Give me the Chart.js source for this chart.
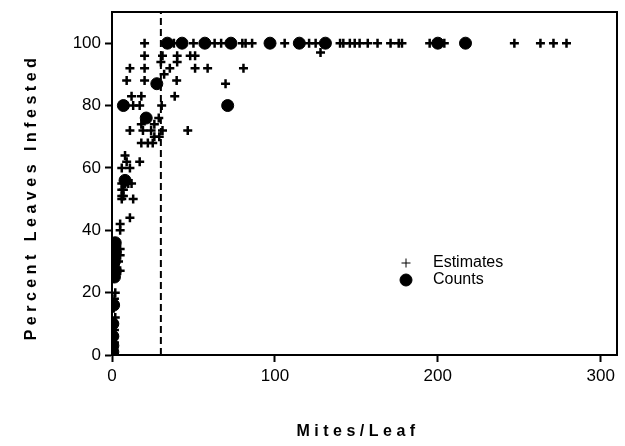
<!DOCTYPE html>
<html>
<head>
<meta charset="utf-8">
<script src="https://cdn.jsdelivr.net/npm/chart.js@4/dist/chart.umd.min.js"></script>
<style>
    html, body { margin: 0; padding: 0; background: #fff; }
</style>
</head>
<body>
<canvas id="chart" width="625" height="446"></canvas>
<script>
// Mites per leaf vs percent leaves infested

const xTicks = [0, 100, 200, 300];
const yTicks = [0, 20, 40, 60, 80, 100];
const thresholdX = [30, 30];
const thresholdY = [0, 110];

// Estimates (+)
const estimatesX = [
    20, 38, 50, 63, 67, 80, 82, 86, 106, 121, 125, 140, 142, 146, 149, 152, 157, 163,
    171, 176, 178, 195, 204, 247, 263, 271, 279,
    128,
    20, 31, 40, 48, 51,
    30, 40,
    11, 20, 35.5, 51, 58.7, 80.7,
    32,
    9, 20, 39.7, 69.7,
    12, 18, 38.5,
    13, 17, 30.5,
    28.7,
    18, 26,
    11, 19, 24, 31, 46.5,
    26, 29,
    18, 22, 25,
    8, 9, 17, 6, 11,
    6, 8, 10, 12, 6, 7, 6, 7, 13, 6,
    11, 5, 5, 5, 5, 4, 5,
    2, 1.5, 1, 2, 1, 1.5, 1, 1.5, 1, 1
];
const estimatesY = [
    100, 100, 100, 100, 100, 100, 100, 100, 100, 100, 100, 100, 100, 100, 100, 100, 100, 100,
    100, 100, 100, 100, 100, 100, 100, 100, 100,
    97,
    96, 96, 96, 96, 96,
    94, 94,
    92, 92, 92, 92, 92, 92,
    90,
    88, 88, 88, 87,
    83, 83, 83,
    80, 80, 80,
    76,
    74, 74,
    72, 72, 72, 72, 72,
    70, 70,
    68, 68, 68,
    64, 62, 62, 60, 60,
    55, 55, 55, 55, 53, 53, 51, 51, 50, 50,
    44, 42, 40, 34, 32, 30, 27,
    20, 18, 15, 12, 10, 8, 6, 4, 2, 0
];

// Counts (filled circles)
const countsX = [34, 43, 57, 73, 97, 115, 131, 200, 217, 27.5, 7, 71, 21, 8, 2, 2, 1.5, 2, 1.5, 1, 0.5, 0.5, 0.5, 0.5];
const countsY = [100, 100, 100, 100, 100, 100, 100, 100, 100, 87, 80, 80, 76, 56, 36, 33, 30, 27, 25, 16, 10, 6, 3, 1];

const toPoints = (xs, ys) => xs.map((x, i) => ({ x: x, y: ys[i] }));

// black frame round the plot area
const framePlugin = {
    id: 'frame',
    afterDatasetsDraw(chart) {
        const a = chart.chartArea;
        const ctx = chart.ctx;
        ctx.save();
        ctx.strokeStyle = '#000';
        ctx.lineWidth = 2;
        ctx.strokeRect(a.left, a.top, a.right - a.left, a.bottom - a.top);
        ctx.restore();
    }
};

// spaced-out bold axis titles
const titlePlugin = {
    id: 'axisTitles',
    afterDraw(chart) {
        const ctx = chart.ctx;
        ctx.save();
        ctx.fillStyle = '#000';
        ctx.font = 'bold 16px "Liberation Sans", Arial, sans-serif';
        ctx.letterSpacing = '4.5px';
        ctx.textAlign = 'center';
        ctx.textBaseline = 'middle';
        ctx.fillText('Mites/Leaf', 358, 432);
        ctx.translate(32, 197);
        ctx.rotate(-Math.PI / 2);
        ctx.fillText('Percent Leaves Infested', 0, 0);
        ctx.restore();
    }
};

// legend inside the plot
const legendPlugin = {
    id: 'innerLegend',
    afterDraw(chart) {
        const ctx = chart.ctx;
        ctx.save();
        ctx.fillStyle = '#000';
        ctx.strokeStyle = '#000';
        Chart.helpers.drawPoint(ctx, { pointStyle: 'cross', radius: 4.5, borderWidth: 2.5 }, 406, 263);
        Chart.helpers.drawPoint(ctx, { pointStyle: 'circle', radius: 6, borderWidth: 1 }, 406, 280);
        ctx.font = '16px "Liberation Sans", Arial, sans-serif';
        ctx.textAlign = 'left';
        ctx.textBaseline = 'middle';
        ctx.fillText('Estimates', 433, 263);
        ctx.fillText('Counts', 433, 280);
        ctx.restore();
    }
};

const tickFont = { family: '"Liberation Sans", Arial, sans-serif', size: 17 };

new Chart(document.getElementById('chart'), {
    type: 'scatter',
    data: {
        datasets: [
            {
                label: 'Threshold',
                type: 'line',
                data: toPoints(thresholdX, thresholdY),
                borderColor: '#000',
                borderWidth: 2,
                borderDash: [7, 4],
                pointRadius: 0,
                fill: false
            },
            {
                label: 'Estimates',
                data: toPoints(estimatesX, estimatesY),
                pointStyle: 'cross',
                pointRadius: 4.5,
                borderWidth: 2.5,
                borderColor: '#000',
                backgroundColor: '#000'
            },
            {
                label: 'Counts',
                data: toPoints(countsX, countsY),
                pointStyle: 'circle',
                pointRadius: 6,
                borderWidth: 1,
                borderColor: '#000',
                backgroundColor: '#000'
            }
        ]
    },
    options: {
        responsive: false,
        animation: false,
        layout: { padding: { left: 0, top: 12, right: 8, bottom: 0 } },
        plugins: {
            legend: { display: false },
            tooltip: { enabled: false }
        },
        scales: {
            x: {
                type: 'linear',
                min: 0,
                max: 310,
                afterBuildTicks: scale => { scale.ticks = xTicks.map(v => ({ value: v })); },
                afterFit: scale => {
                    scale.height = 91;
                    scale.paddingLeft = 0;
                    scale.paddingRight = 0;
                },
                grid: { drawOnChartArea: false, drawTicks: true, tickLength: 7, tickWidth: 2, tickColor: '#000' },
                border: { display: true, color: '#000', width: 2 },
                ticks: { color: '#000', font: tickFont, padding: 4, maxRotation: 0 }
            },
            y: {
                type: 'linear',
                min: 0,
                max: 110,
                afterBuildTicks: scale => { scale.ticks = yTicks.map(v => ({ value: v })); },
                afterFit: scale => {
                    scale.width = 112;
                    scale.paddingTop = 0;
                    scale.paddingBottom = 0;
                },
                grid: { drawOnChartArea: false, drawTicks: true, tickLength: 7, tickWidth: 2, tickColor: '#000' },
                border: { display: true, color: '#000', width: 2 },
                ticks: { color: '#000', font: tickFont, padding: 4 }
            }
        }
    },
    plugins: [framePlugin, titlePlugin, legendPlugin]
});
</script>
</body>
</html>
